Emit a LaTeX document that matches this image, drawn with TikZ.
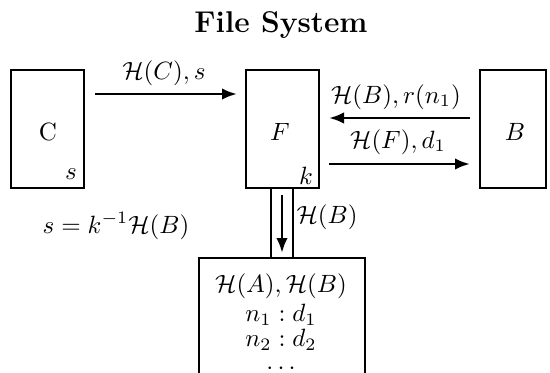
\documentclass[tikz,border=0pt]{standalone}
\usetikzlibrary{arrows.meta}
\begin{document}
\begin{tikzpicture}[x=0.4pt,y=-0.4pt,
  box/.style={draw,line width=1.1pt},
  flow/.style={line width=1.1pt,-{Latex[length=6pt,width=4.6pt]}},
  lbl/.style={inner sep=0pt}]
\useasboundingbox (0,0) rectangle (550,372);
% title
\node[lbl,font=\large\bfseries] (title) at (281,25) {File System};
% client, file server and block server boxes
\draw[box] (11,70) rectangle (84,188);
\draw[box] (246,70) rectangle (319,188);
\draw[box] (480,70) rectangle (546,188);
\node[lbl] (c) at (48,132) {C};
\node[lbl] (cs) at (71,174) {$s$};
\node[lbl] (f) at (280,132) {$F$};
\node[lbl] (fk) at (306,176) {$k$};
\node[lbl] (b) at (515,132) {$B$};
\coordinate (c1) at (95,94);
\coordinate (f1) at (237,94);
\coordinate (b2) at (470,118);
\coordinate (f2) at (329,118);
\coordinate (f3) at (329,164);
\coordinate (b3) at (470,164);
\draw[flow] (c1) -- (f1);
\draw[flow] (b2) -- (f2);
\draw[flow] (f3) -- (b3);
\node[lbl] (lc) at (164,73) {$\mathcal{H}(C), s$};
\node[lbl] (lb) at (396,97) {$\mathcal{H}(B), r(n_1)$};
\node[lbl] (lf) at (398,142) {$\mathcal{H}(F), d_1$};
\node[lbl] (sig) at (116,226) {$s = k^{-1}\mathcal{H}(B)$};
% pipe from the file server to the directory store
\draw[line width=1.1pt] (271,188) -- (271,258);
\draw[line width=1.1pt] (293,188) -- (293,258);
\coordinate (p1) at (282,195);
\coordinate (p2) at (282,253);
\draw[flow] (p1) -- (p2);
\node[lbl] (hb) at (327,217) {$\mathcal{H}(B)$};
% directory store, open at the bottom
\draw[box] (199,380) -- (199,258) -- (365,258) -- (365,380);
\node[lbl] (d0) at (281,286) {$\mathcal{H}(A), \mathcal{H}(B)$};
\node[lbl] (d1) at (281,315) {$n_1 : d_1$};
\node[lbl] (d2) at (281,340) {$n_2 : d_2$};
\node[lbl] (d3) at (281,369) {$\cdots$};
\end{tikzpicture}
\end{document}
